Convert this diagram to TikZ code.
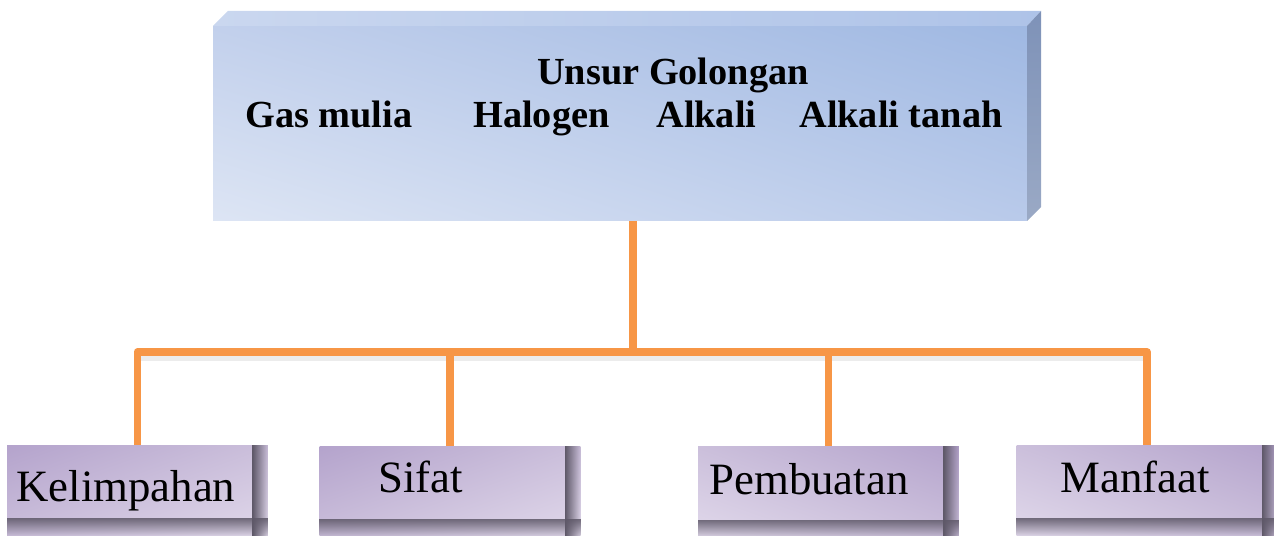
\documentclass[tikz,border=0pt]{standalone}
\usepackage{fontspec}
\setmainfont{Liberation Serif}
\usetikzlibrary{calc,shadings,fadings}

\definecolor{frontul}{HTML}{C2D0EC}
\definecolor{frontur}{HTML}{9FB8E2}
\definecolor{frontll}{HTML}{DDE5F4}
\definecolor{frontlr}{HTML}{B9CAEA}
\definecolor{topleft}{HTML}{CAD7EF}
\definecolor{topright}{HTML}{AEC3E8}
\definecolor{sidetop}{HTML}{7E92B8}
\definecolor{sidebot}{HTML}{9AA9C5}
\definecolor{lilacdark}{HTML}{B4A3CC}
\definecolor{lilacmid}{HTML}{CBBFDB}
\definecolor{lilaclight}{HTML}{E1D9EB}
\definecolor{shadowgray}{HTML}{5E5868}
\definecolor{linkorange}{HTML}{F79646}

\begin{document}
\begin{tikzpicture}[x=0.02cm,y=-0.02cm,
	conn/.style={linkorange, line width=4.5pt, line join=round},
	headtext/.style={font=\fontsize{21.8}{26}\selectfont\bfseries, inner sep=0pt},
	itemtext/.style={font=\fontsize{25.5}{30}\selectfont, inner sep=0pt},
	itembox/.style={rectangle, minimum width=5.22cm, minimum height=1.82cm, inner sep=0pt}]
				\useasboundingbox (0,0) rectangle (1274,536);
				
				% block on top
				\shade [left color=topleft, right color=topright] (213,26) -- (228,11) -- (1041,11) -- (1027,26) -- cycle;
				\shade [top color=sidetop, bottom color=sidebot] (1027,26) -- (1041,11) -- (1041,207) -- (1027,221) -- cycle;
				\node [rectangle, shade, upper left=frontul, upper right=frontur, lower left=frontll, lower right=frontlr,
					minimum width=16.28cm, minimum height=3.9cm, inner sep=0pt] (group) at (620,123.5) {};
				
				\node [headtext, anchor=base] (title) at (673,85) {Unsur Golongan};
				\node [headtext, anchor=base west] (gas) at (245,128) {Gas mulia};
				\node [headtext, anchor=base west] (halo) at (473,128) {Halogen};
				\node [headtext, anchor=base west] (alka) at (656,128) {Alkali};
				\node [headtext, anchor=base west] (alta) at (799,128) {Alkali tanah};
				
				% boxes below
				\node [itembox, shade, upper left=lilacdark, upper right=lilacmid, lower left=lilacmid, lower right=lilaclight] (kel) at (137.5,490.5) {};
				\node [itembox, shade, upper left=lilacdark, upper right=lilacmid, lower left=lilacmid, lower right=lilaclight] (sif) at (450,491.5) {};
				\node [itembox, shade, upper left=lilacmid, upper right=lilacdark, lower left=lilaclight, lower right=lilacmid] (pem) at (828.5,492) {};
				\node [itembox, shade, upper left=lilacmid, upper right=lilacdark, lower left=lilaclight, lower right=lilacmid] (man) at (1147,490.5) {};
				
				\foreach \b in {kel,sif,pem,man} {
					\fill [shadowgray, path fading=east] ($(\b.north east)+(-16,0)$) rectangle (\b.south east);
					\fill [shadowgray, path fading=south, opacity=0.85] ($(\b.south west)+(0,-18)$) rectangle (\b.south east);
				}
				
				\node [itemtext, anchor=base west] (kelt) at (16,501) {Kelimpahan};
				\node [itemtext, anchor=base west] (sift) at (378,493) {Sifat};
				\node [itemtext, anchor=base west] (pemt) at (709,495) {Pembuatan};
				\node [itemtext, anchor=base west] (mant) at (1060,493) {Manfaat};
				
				% links
				\coordinate (bar) at (633,352);
				\draw [gray, opacity=0.15, line width=3pt] ($(bar -| kel.north)+(0,6)$) -- ($(bar -| man.north)+(0,6)$);
				\draw [conn] (bar |- group.south) -- (bar);
				\foreach \b in {kel,sif,pem,man}
					\draw [conn] (bar) -| (\b.north);
\end{tikzpicture}
\end{document}
